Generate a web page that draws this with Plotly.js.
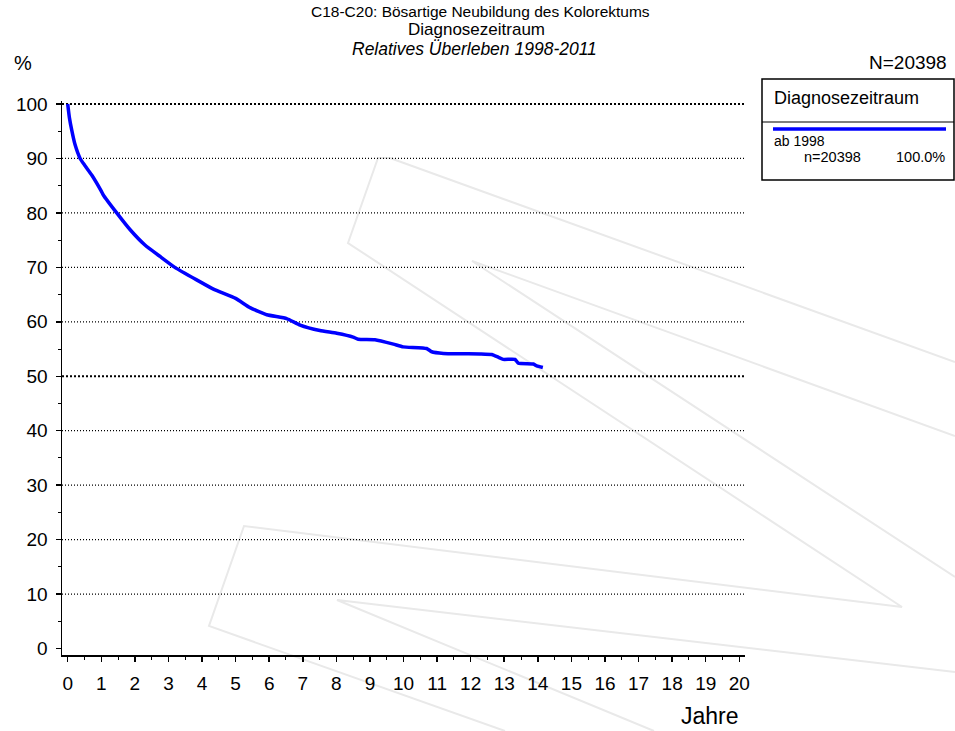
<!DOCTYPE html>
<html>
<head>
<meta charset="utf-8">
<script src="https://cdn.plot.ly/plotly-3.0.1.min.js"></script>
<style>
  html, body { margin: 0; padding: 0; background: #ffffff; }
  #chart { width: 955px; height: 731px; }
</style>
</head>
<body>
<div id="chart"></div>
<script>
// ---- data ----
const titleLine1 = 'C18-C20: Bösartige Neubildung des Kolorektums';
const titleLine2 = 'Diagnosezeitraum';
const titleLine3 = 'Relatives Überleben 1998-2011';
const yUnit = '%';
const xUnit = 'Jahre';
const totalN = 'N=20398';
const legendTitle = 'Diagnosezeitraum';
const seriesName = 'ab 1998';
const seriesCount = 'n=20398';
const seriesShare = '100.0%';

const years = [0, 0.05, 0.12, 0.22, 0.37, 0.5, 0.71, 1.0, 1.06, 1.46, 1.86, 2.3, 2.75, 3.19, 3.84, 4.34, 5.0,
  5.43, 5.93, 6.52, 6.92, 7.51, 8.01, 8.5, 8.65, 9.15, 9.7, 9.99, 10.69, 10.84, 11.19, 12.28, 12.63, 12.82,
  12.97, 13.32, 13.42, 13.87, 13.97, 14.15];
const survival = [100, 97.5, 95.2, 92.5, 90.0, 88.8, 87.0, 84.0, 83.3, 80.0, 76.9, 74.1, 72.0, 70.0, 67.7, 66.0, 64.3,
  62.6, 61.3, 60.6, 59.4, 58.4, 57.9, 57.2, 56.8, 56.7, 55.9, 55.4, 55.1, 54.5, 54.2, 54.1, 54.0, 53.5,
  53.1, 53.1, 52.4, 52.25, 51.9, 51.6];

const xTicks = [0,1,2,3,4,5,6,7,8,9,10,11,12,13,14,15,16,17,18,19,20];
const yTicks = [0,10,20,30,40,50,60,70,80,90,100];
const strongGrid = [50, 100];

// ---- layout helpers (pixel -> paper) ----
const M = {l: 62, r: 210, t: 101, b: 76};
const PW = 955 - M.l - M.r, PH = 731 - M.t - M.b;
const px = x => (x - M.l) / PW;
const py = y => (731 - M.b - y) / PH;
const FONT = 'Liberation Sans, Arial, sans-serif';

function txt(text, x, y, size, xanchor, extra) {
  return Object.assign({
    text: text, x: px(x), y: py(y), xref: 'paper', yref: 'paper',
    xanchor: xanchor, yanchor: 'middle', showarrow: false,
    font: {family: FONT, size: size, color: '#000'}
  }, extra || {});
}

// background watermark (decorative)
const wm = [
  [[390,158],[378,158],[348,243],[902,607],[244,526],[209,626],[505,731]],
  [[390,158],[955,362]],
  [[955,436],[472,261],[955,577]],
  [[955,672],[337,600],[654,731]]
];
const shapes = [];
wm.forEach(poly => {
  const d = poly.map((p, i) => (i ? 'L' : 'M') + px(p[0]).toFixed(5) + ',' + py(p[1]).toFixed(5)).join(' ');
  shapes.push({type: 'path', path: d, xref: 'paper', yref: 'paper', layer: 'below',
    line: {color: '#e9e9e9', width: 2}});
});
// dotted gridlines
yTicks.filter(v => v > 0).forEach(v => {
  const strong = strongGrid.indexOf(v) >= 0;
  shapes.push({type: 'line', xref: 'paper', x0: 0, x1: 1, yref: 'y', y0: v, y1: v, layer: 'below',
    line: {color: '#000', width: strong ? 2.2 : 1.2, dash: strong ? '2px,2px' : '1px,2px'}});
});
// legend box
shapes.push({type: 'rect', xref: 'paper', yref: 'paper', x0: px(762), x1: px(954), y0: py(79), y1: py(180),
  line: {color: '#000', width: 1.5}, fillcolor: 'rgba(0,0,0,0)'});
shapes.push({type: 'line', xref: 'paper', yref: 'paper', x0: px(762), x1: px(954), y0: py(122), y1: py(122),
  line: {color: '#000', width: 1.2}});
shapes.push({type: 'line', xref: 'paper', yref: 'paper', x0: px(773), x1: px(946), y0: py(129), y1: py(129),
  line: {color: '#0000ff', width: 3.5}});

const annotations = [
  txt(titleLine1, 480, 12, 15.5, 'center'),
  txt(titleLine2, 476, 29.5, 17, 'center'),
  txt('<i>' + titleLine3 + '</i>', 474, 49, 17.5, 'center'),
  txt(yUnit, 12, 63, 20, 'left'),
  txt(totalN, 949, 62, 19, 'right'),
  txt(xUnit, 741, 716, 23, 'right'),
  txt(legendTitle, 772, 98, 18, 'left'),
  txt(seriesName, 772, 140.5, 14, 'left'),
  txt(seriesCount, 802, 157, 14.5, 'left'),
  txt(seriesShare, 947, 157, 14.5, 'right')
];

const trace = {
  type: 'scatter', mode: 'lines', x: years, y: survival, name: seriesName,
  line: {color: '#0000ff', width: 3.5, shape: 'spline', smoothing: 0.4}, hoverinfo: 'x+y'
};

const layout = {
  width: 955, height: 731,
  margin: M,
  paper_bgcolor: '#fff', plot_bgcolor: '#fff',
  showlegend: false,
  font: {family: FONT, color: '#000'},
  xaxis: {
    range: [-0.17, 20.17], tickmode: 'array', tickvals: xTicks, ticktext: xTicks.map(String),
    ticks: 'outside', ticklen: 5, tickwidth: 1.5, tickcolor: '#000',
    showline: true, linecolor: '#000', linewidth: 1.5, showgrid: false, zeroline: false,
    tickfont: {family: FONT, size: 19, color: '#000'}, ticklabelstandoff: 6,
    minor: {tickmode: 'linear', tick0: 0, dtick: 0.5, ticks: 'outside', ticklen: 3, tickwidth: 1, tickcolor: '#000', showgrid: false},
    fixedrange: true
  },
  yaxis: {
    range: [-1.19, 100.55], tickmode: 'array', tickvals: yTicks, ticktext: yTicks.map(String),
    ticks: 'outside', ticklen: 5, tickwidth: 1.5, tickcolor: '#000',
    showline: true, linecolor: '#000', linewidth: 1.5, showgrid: false, zeroline: false,
    tickfont: {family: FONT, size: 19, color: '#000'}, ticklabelstandoff: 4,
    minor: {tickmode: 'linear', tick0: 0, dtick: 5, ticks: 'outside', ticklen: 3, tickwidth: 1, tickcolor: '#000', showgrid: false},
    fixedrange: true
  },
  shapes: shapes,
  annotations: annotations
};

Plotly.newPlot('chart', [trace], layout, {displayModeBar: false, staticPlot: true});
</script>
</body>
</html>
